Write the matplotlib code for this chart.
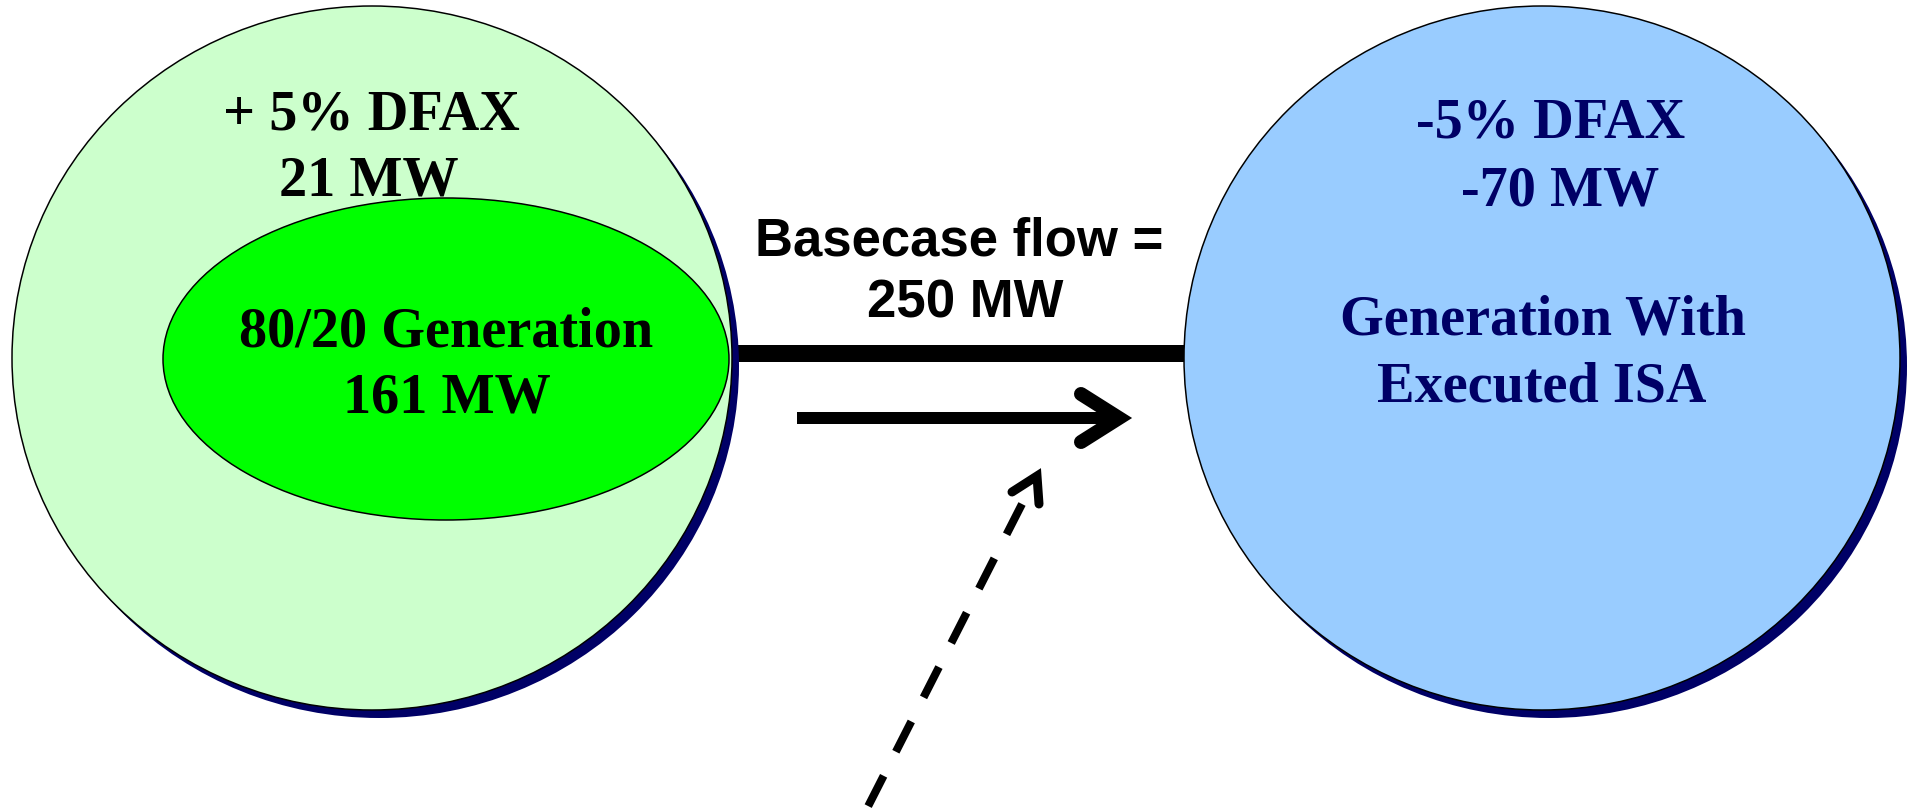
import matplotlib
matplotlib.use("Agg")
import matplotlib.pyplot as plt
from matplotlib.patches import Ellipse

# ---- content ----
left_labels = ["+ 5% DFAX", "21 MW"]
inner_labels = ["80/20 Generation", "161 MW"]
flow_labels = ["Basecase flow =", "250 MW"]
right_labels = ["-5% DFAX", "-70 MW", "Generation With", "Executed ISA"]

NAVY = "#000066"
LIGHT_GREEN = "#CCFFCC"
GREEN = "#00FF00"
LIGHT_BLUE = "#99CCFF"

W, H = 1915, 812
PX = 72 / 100  # points per pixel at dpi=100

fig = plt.figure(figsize=(W / 100, H / 100), dpi=100)
ax = fig.add_axes([0, 0, 1, 1])
ax.set_xlim(0, W)
ax.set_ylim(H, 0)
ax.axis("off")


def bubble(cx, cy, rx, ry, color, shadow=True):
    if shadow:
        ax.add_patch(Ellipse((cx + 7, cy + 8), 2 * rx, 2 * ry,
                             facecolor=NAVY, edgecolor="none", zorder=2))
    ax.add_patch(Ellipse((cx, cy), 2 * rx, 2 * ry, facecolor=color,
                         edgecolor="black", lw=1.5 * PX, zorder=3))


# circles
bubble(372, 359, 360, 352, LIGHT_GREEN)
bubble(1542, 359, 358, 352, LIGHT_BLUE)
ax.add_patch(Ellipse((446, 360), 566, 322, facecolor=GREEN,
                     edgecolor="black", lw=1.5 * PX, zorder=4))

# thick tie line between the areas
ax.plot([725, 1190], [354, 354], color="black", lw=17 * PX,
        solid_capstyle="butt", zorder=1)

# flow arrow
ax.plot([797, 1116], [419, 419], color="black", lw=12 * PX,
        solid_capstyle="butt", zorder=5)
ax.plot([1081, 1119, 1081], [395, 419, 443], color="black", lw=14 * PX,
        solid_capstyle="round", solid_joinstyle="miter", zorder=5)

# dashed arrow
ax.plot([1022, 854], [505, 835], color="black", lw=8 * PX,
        linestyle=(0, (34 / 8, 27 / 8)), dash_capstyle="butt", zorder=5)
ax.plot([1012, 1037, 1039], [493, 477, 505], color="black", lw=9 * PX,
        solid_capstyle="round", solid_joinstyle="miter", zorder=5)

serif = dict(family="Liberation Serif", weight="bold", fontsize=40.5,
             ha="center", va="baseline", zorder=6)
sans = dict(family="Liberation Sans", weight="bold", fontsize=38,
            ha="center", va="baseline", zorder=6)

ax.text(371, 130, left_labels[0], color="black", **serif)
ax.text(369, 195, left_labels[1], color="black", **serif)
ax.text(446, 347, inner_labels[0], color="black", **serif)
ax.text(447, 413, inner_labels[1], color="black", **serif)

ax.text(959, 255, flow_labels[0], color="black", **sans)
ax.text(965, 318, flow_labels[1], color="black", **sans)

ax.text(1551, 138, right_labels[0], color=NAVY, **serif)
ax.text(1560, 205, right_labels[1], color=NAVY, **serif)
ax.text(1543, 335, right_labels[2], color=NAVY, **serif)
ax.text(1542, 402, right_labels[3], color=NAVY, **serif)

fig.savefig("out.png", dpi=100)
plt.close(fig)
